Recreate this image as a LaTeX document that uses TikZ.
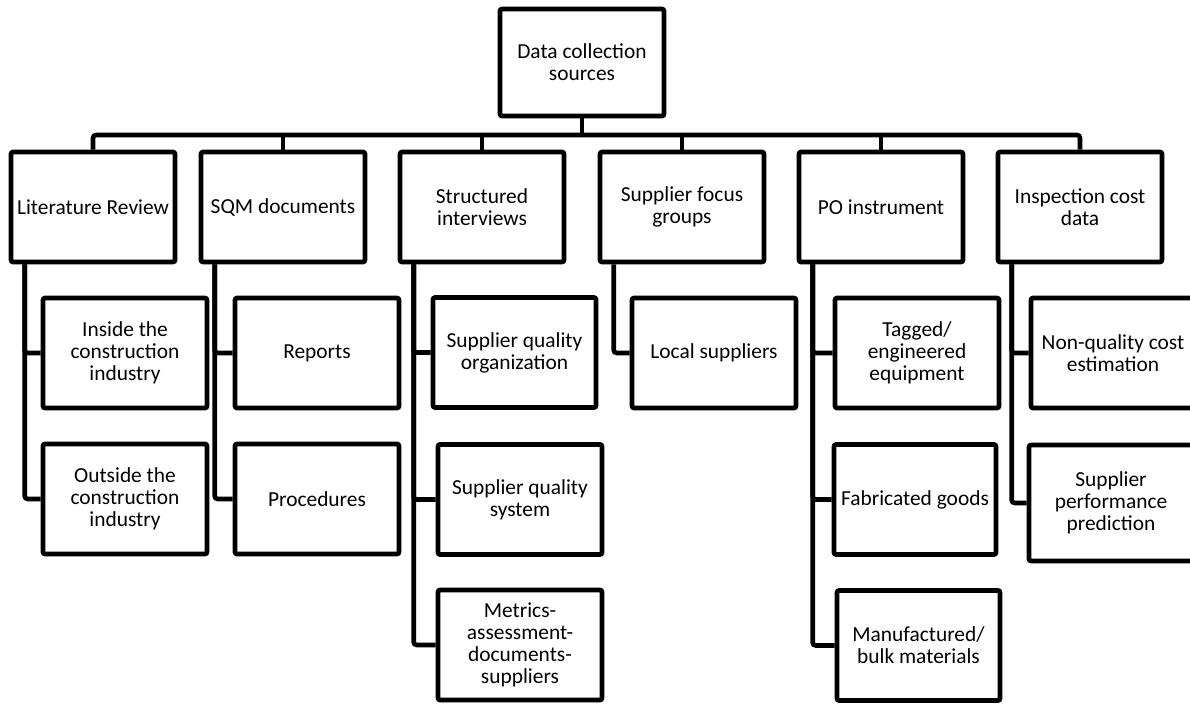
\documentclass[tikz,border=0pt]{standalone}
\usepackage{fontspec}
\setmainfont{Carlito}
\begin{document}
\begin{tikzpicture}[x=0.5pt,y=-0.5pt,
  box/.style={draw,line width=2.3pt,rounded corners=1pt,minimum width=82pt,minimum height=55pt,
    inner sep=0pt,align=center,font=\fontsize{10.7pt}{11pt}\selectfont},
  link/.style={line width=2.3pt,rounded corners=1.5pt}]
\useasboundingbox (0,0) rectangle (1190,703);
\clip (0,0) rectangle (1190,703);
% root
\node[box,minimum height=53.5pt] (root) at (582,62.5) {Data collection\\sources};
% first level
\node[box] (lit)  at (93,207)   {Literature Review};
\node[box] (sqm)  at (283,207)  {SQM documents};
\node[box] (sint) at (482,207)  {Structured\\interviews};
\node[box] (sfg)  at (682,207)  {Supplier focus\\groups};
\node[box] (po)   at (881,207)  {PO instrument};
\node[box] (insp) at (1080,207) {Inspection cost\\data};
% second level
\node[box] (inside)  at (125,353)   {Inside the\\construction\\industry};
\node[box] (outside) at (125,499)   {Outside the\\construction\\industry};
\node[box] (reports) at (317,353)   {Reports};
\node[box] (proc)    at (317,499)   {Procedures};
\node[box,minimum width=81.5pt] (sqo) at (514.5,352.5) {Supplier quality\\organization};
\node[box] (sqs)     at (520,499.5) {Supplier quality\\system};
\node[box] (metrics) at (520,645)   {Metrics-\\assessment-\\documents-\\suppliers};
\node[box] (local)   at (714,353)   {Local suppliers};
\node[box] (tagged)  at (917,353)   {Tagged/\\engineered\\equipment};
\node[box,minimum width=81pt] (fab) at (915,499.5) {Fabricated goods};
\node[box,minimum width=81.5pt] (manu) at (918.5,645.5) {Manufactured/\\bulk materials};
\node[box] (nqc)     at (1113,353)  {Non-quality cost\\estimation};
\node[box,minimum height=58pt] (spp) at (1111,503) {Supplier\\performance\\prediction};
% bus from the root to the first level
\coordinate (bus) at (582,135);
\draw[link] (root.south) -- (bus);
\draw[link] (lit.north) |- (bus) -| (insp.north);
\foreach \n in {sqm,sint,sfg,po}
  \draw[link] (\n.north) -- (\n.north |- bus);
% branches to the second level
\foreach \p/\c in {lit/inside,lit/outside,sqm/reports,sqm/proc,sint/sqo,sint/sqs,sint/metrics,
                   sfg/local,po/tagged,po/fab,po/manu,insp/nqc,insp/spp}
  \draw[link] (\p.south west) ++(8pt,0) |- (\c.west);
\end{tikzpicture}
\end{document}
